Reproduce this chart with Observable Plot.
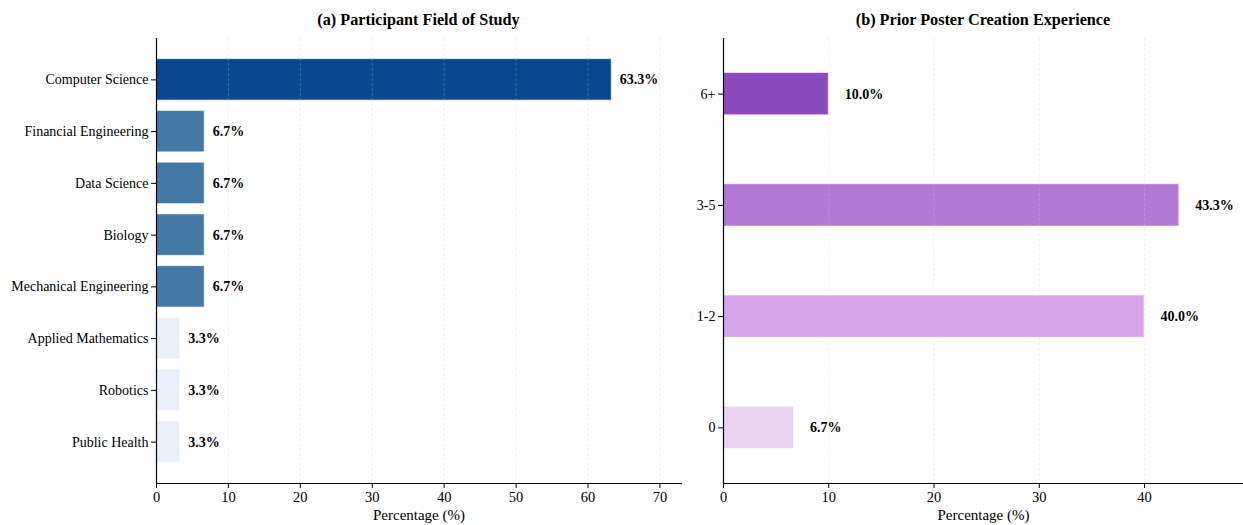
<!DOCTYPE html>
<html>
<head>
<meta charset="utf-8">
<script src="https://cdn.jsdelivr.net/npm/d3@7"></script>
<script src="https://cdn.jsdelivr.net/npm/@observablehq/plot@0.6"></script>
<style>
  html, body { margin: 0; padding: 0; background: #fff; overflow: hidden; }
  body { width: 1243px; height: 525px; position: relative; font-family: "Liberation Serif", "DejaVu Serif", serif; }
  .panel { position: absolute; top: 0; }
  .title { height: 30px; line-height: 40px; font-weight: bold; font-size: 16.2px; text-align: center; color: #000; }
  svg { display: block; }
</style>
</head>
<body>
<div id="left" class="panel" style="left:0px;width:690px;"></div>
<div id="right" class="panel" style="left:680px;width:563px;"></div>
<script>
// ---- Data ----
const fields = ["Computer Science", "Financial Engineering", "Data Science", "Biology",
  "Mechanical Engineering", "Applied Mathematics", "Robotics", "Public Health"];
const fieldPct = [63.3, 6.7, 6.7, 6.7, 6.7, 3.3, 3.3, 3.3];
const fieldColors = ["#08488e", "#4479a6", "#4479a6", "#4479a6", "#4479a6", "#e8f0fa", "#e8f0fa", "#e8f0fa"];

const experience = ["6+", "3-5", "1-2", "0"];
const experiencePct = [10.0, 43.3, 40.0, 6.7];
const experienceColors = ["#8b4bbf", "#b07ad4", "#d4a5e8", "#e8d4f0"];

const leftTicks = [0, 10, 20, 30, 40, 50, 60, 70];
const rightTicks = [0, 10, 20, 30, 40];

const fieldData = fields.map((f, i) => ({field: f, value: fieldPct[i]}));
const expData = experience.map((e, i) => ({cat: e, value: experiencePct[i]}));

const serif = "'Liberation Serif', serif";
const fontStyle = {fontFamily: serif, fontSize: "14px", color: "#000", background: "transparent", overflow: "visible"};

function panel(el, titleText, opts) {
  const t = document.createElement("div");
  t.className = "title";
  t.style.marginLeft = opts.marginLeft + "px";
  t.style.width = (opts.width - opts.marginLeft - opts.marginRight) + "px";
  t.textContent = titleText;
  el.appendChild(t);
  const chart = Plot.plot({
    width: opts.width,
    height: 495,
    marginLeft: opts.marginLeft,
    marginRight: opts.marginRight,
    marginTop: 8,
    marginBottom: 42,
    style: fontStyle,
    x: {domain: opts.xDomain, ticks: opts.ticks},
    y: {domain: opts.cats, type: "band", paddingInner: opts.pi, paddingOuter: opts.po, align: 0.5, round: false},
    color: {domain: opts.cats, range: opts.colors},
    marks: [
      Plot.barX(opts.data, {x: "value", y: opts.yKey, fill: opts.yKey, stroke: "#ffffff", strokeOpacity: 0.6, strokeWidth: 1}),
      Plot.gridX(opts.ticks, {stroke: "#c8c8c8", strokeOpacity: 0.35, strokeDasharray: "3,2", strokeWidth: 0.8}),
      Plot.text(opts.data, {x: "value", y: opts.yKey, text: d => d.value.toFixed(1) + "%", textAnchor: "start", dx: opts.dx, fontWeight: "bold", fontSize: 14, fontFamily: serif, fill: "#000"}),
      Plot.axisX(opts.ticks, {tickSize: 5, tickPadding: 3, fontSize: 14.5, fontFamily: serif, label: null}),
      Plot.axisY({tickSize: 5, tickPadding: 3, fontSize: 14, fontFamily: serif, label: null}),
      Plot.text(["Percentage (%)"], {frameAnchor: "bottom", dy: 36, fontSize: 15, fontFamily: serif, fill: "#000"}),
      Plot.ruleX([0], {stroke: "#000", strokeWidth: 1.2}),
      Plot.frame({anchor: "bottom", stroke: "#000", strokeWidth: 1.2})
    ]
  });
  el.appendChild(chart);
}

panel(document.getElementById("left"), "(a) Participant Field of Study", {
  width: 690, marginLeft: 156, marginRight: 9,
  xDomain: [0, 73], ticks: leftTicks, cats: fields, colors: fieldColors,
  data: fieldData, yKey: "field", pi: 0.2, po: 0.4, dx: 8
});

panel(document.getElementById("right"), "(b) Prior Poster Creation Experience", {
  width: 563, marginLeft: 43, marginRight: 0,
  xDomain: [0, 49.4], ticks: rightTicks, cats: experience, colors: experienceColors,
  data: expData, yKey: "cat", pi: 0.62, po: 0.31, dx: 16
});
</script>
</body>
</html>
